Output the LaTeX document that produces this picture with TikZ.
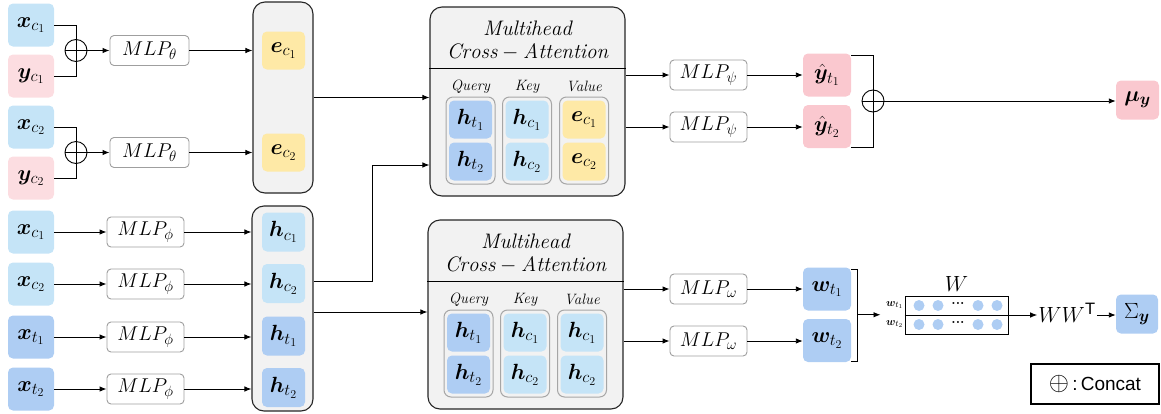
\RequirePackage{fix-cm}
\documentclass[tikz,border=0pt]{standalone}
\usepackage{fontspec}
\usepackage{amsmath,bm}
\newfontfamily\arialfont{Liberation Sans}
\usetikzlibrary{calc,arrows.meta}
\DeclareMathSizes{22}{22}{16.5}{12}
\DeclareMathSizes{20}{20}{15}{11}
\DeclareMathSizes{11}{11}{8.5}{6}
\definecolor{lblue}{HTML}{C5E4F7}
\definecolor{dblue}{HTML}{AECDF3}
\definecolor{lpink}{HTML}{FCDDE1}
\definecolor{dpink}{HTML}{FAC8CF}
\definecolor{yel}{HTML}{FEE9A6}
\definecolor{contfill}{HTML}{F2F2F2}
\tikzset{
  cell/.style={rounded corners=5pt, inner sep=0pt, minimum width=43pt, minimum height=38pt, font=\fontsize{22}{24}\selectfont},
  inbox/.style={cell, minimum width=46pt, minimum height=43pt},
  outbox/.style={cell, minimum width=48pt, minimum height=43pt},
  mlp/.style={draw=gray!75, line width=0.9pt, rounded corners=4pt, fill=white, minimum width=77pt, minimum height=30pt, inner sep=0pt, font=\fontsize{20}{22}\selectfont},
  container/.style={draw=black!85, line width=1.1pt, fill=contfill, rounded corners=12pt, inner sep=0pt},
  grp/.style={draw=gray!70, line width=1pt, fill=contfill, rounded corners=7pt, minimum width=49pt, minimum height=87pt, inner sep=0pt},
  cat/.style={circle, draw, line width=0.9pt, minimum size=22pt, inner sep=0pt},
  arr/.style={-{Latex[length=7pt,width=5.5pt]}, line width=0.9pt},
  ln/.style={line width=0.9pt},
  qlab/.style={font=\fontsize{15}{17}\selectfont\itshape},
  ttl/.style={font=\fontsize{21}{24}\selectfont},
  dot/.style={circle, fill=dblue, minimum size=11pt, inner sep=0pt},
}
\begin{document}
\begin{tikzpicture}[x=1pt,y=-1pt]
\useasboundingbox (0,0) rectangle (1161,413);

% ---------- left inputs ----------
\node[inbox, fill=lblue] (xa) at (31,25) {$\bm{x}_{c_1}$};
\node[inbox, fill=lpink] (ya) at (31,76) {$\bm{y}_{c_1}$};
\node[inbox, fill=lblue] (xb) at (31,127) {$\bm{x}_{c_2}$};
\node[inbox, fill=lpink] (yb) at (31,178) {$\bm{y}_{c_2}$};
\node[inbox, fill=lblue] (xc1) at (31,232) {$\bm{x}_{c_1}$};
\node[inbox, fill=lblue] (xc2) at (31,284) {$\bm{x}_{c_2}$};
\node[inbox, fill=dblue] (xt1) at (31,337) {$\bm{x}_{t_1}$};
\node[inbox, fill=dblue] (xt2) at (31,389) {$\bm{x}_{t_2}$};

% concat circles
\node[cat] (c1) at (76,50.5) {};
\node[cat] (c2) at (76,152.5) {};
\foreach \c in {c1,c2}{
  \draw[ln] (\c.west) -- (\c.east);
}
\draw[ln] (xa.east) -| (c1.north);
\draw[ln] (ya.east) -| (c1.south);
\draw[ln] (c1.north) -- (c1.south);
\draw[ln] (xb.east) -| (c2.north);
\draw[ln] (yb.east) -| (c2.south);
\draw[ln] (c2.north) -- (c2.south);

% MLP theta
\node[mlp, minimum width=79pt] (mt1) at (149.5,50.5) {$MLP_{\theta}$};
\node[mlp, minimum width=79pt] (mt2) at (149.5,152.5) {$MLP_{\theta}$};
\draw[arr] (c1.east) -- (mt1.west);
\draw[arr] (c2.east) -- (mt2.west);

% MLP phi
\node[mlp] (mp1) at (145.5,232) {$MLP_{\phi}$};
\node[mlp] (mp2) at (145.5,284) {$MLP_{\phi}$};
\node[mlp] (mp3) at (145.5,337) {$MLP_{\phi}$};
\node[mlp] (mp4) at (145.5,389) {$MLP_{\phi}$};
\draw[arr] (xc1.east) -- (mp1.west);
\draw[arr] (xc2.east) -- (mp2.west);
\draw[arr] (xt1.east) -- (mp3.west);
\draw[arr] (xt2.east) -- (mp4.west);

% e container
\node[container, minimum width=60pt, minimum height=191pt] (E) at (283,97.5) {};
\node[cell, fill=yel] (ec1) at (283.5,50.5) {$\bm{e}_{c_1}$};
\node[cell, fill=yel] (ec2) at (283.5,152.5) {$\bm{e}_{c_2}$};
\draw[arr] (mt1.east) -- (E.west |- mt1.east);
\draw[arr] (mt2.east) -- (E.west |- mt2.east);

% h container
\node[container, minimum width=61pt, minimum height=205pt] (H) at (282.5,308.5) {};
\node[cell, fill=lblue, minimum height=39pt] (hc1) at (283.5,232) {$\bm{h}_{c_1}$};
\node[cell, fill=lblue, minimum height=39pt] (hc2) at (283.5,283.5) {$\bm{h}_{c_2}$};
\node[cell, fill=dblue, minimum height=39pt] (ht1) at (283.5,336) {$\bm{h}_{t_1}$};
\node[cell, fill=dblue, minimum height=39pt] (ht2) at (283.5,387.5) {$\bm{h}_{t_2}$};
\draw[arr] (mp1.east) -- (H.west |- mp1.east);
\draw[arr] (mp2.east) -- (H.west |- mp2.east);
\draw[arr] (mp3.east) -- (H.west |- mp3.east);
\draw[arr] (mp4.east) -- (H.west |- mp4.east);

% ---------- MHA 1 ----------
\node[container, minimum width=195pt, minimum height=189pt] (M1) at (527.5,101.5) {};
\draw[ln] ($(M1.north west)+(0,62)$) -- ($(M1.north east)+(0,62)$);
\node[ttl] (m1t1) at ($(M1.north)+(0,22)$) {$\mathit{Multihead}$};
\node[ttl] (m1t2) at ($(M1.north)+(0,45)$) {$\mathit{Cross}-\mathit{Attention}$};
\node[grp] (g1q) at (470.5,140.5) {};
\node[grp] (g1k) at (527,140.5) {};
\node[grp] (g1v) at (584,140.5) {};
\node[qlab] (l1q) at ($(g1q.north)+(0,-10)$) {Query};
\node[qlab] (l1k) at ($(g1k.north)+(0,-10)$) {Key};
\node[qlab] (l1v) at ($(g1v.north)+(0,-10)$) {Value};
\node[cell, fill=dblue] (q1a) at ($(g1q)+(0,-21)$) {$\bm{h}_{t_1}$};
\node[cell, fill=dblue] (q1b) at ($(g1q)+(0,21)$) {$\bm{h}_{t_2}$};
\node[cell, fill=lblue] (k1a) at ($(g1k)+(0,-21)$) {$\bm{h}_{c_1}$};
\node[cell, fill=lblue] (k1b) at ($(g1k)+(0,21)$) {$\bm{h}_{c_2}$};
\node[cell, fill=yel] (v1a) at ($(g1v)+(0,-21)$) {$\bm{e}_{c_1}$};
\node[cell, fill=yel] (v1b) at ($(g1v)+(0,21)$) {$\bm{e}_{c_2}$};

% ---------- MHA 2 ----------
\node[container, minimum width=195pt, minimum height=189pt] (M2) at (525.5,314.5) {};
\draw[ln] ($(M2.north west)+(0,62)$) -- ($(M2.north east)+(0,62)$);
\node[ttl] (m2t1) at ($(M2.north)+(0,22)$) {$\mathit{Multihead}$};
\node[ttl] (m2t2) at ($(M2.north)+(0,45)$) {$\mathit{Cross}-\mathit{Attention}$};
\node[grp] (g2q) at (468.5,353.5) {};
\node[grp] (g2k) at (525,353.5) {};
\node[grp] (g2v) at (582,353.5) {};
\node[qlab] (l2q) at ($(g2q.north)+(0,-10)$) {Query};
\node[qlab] (l2k) at ($(g2k.north)+(0,-10)$) {Key};
\node[qlab] (l2v) at ($(g2v.north)+(0,-10)$) {Value};
\node[cell, fill=dblue] (q2a) at ($(g2q)+(0,-21)$) {$\bm{h}_{t_1}$};
\node[cell, fill=dblue] (q2b) at ($(g2q)+(0,21)$) {$\bm{h}_{t_2}$};
\node[cell, fill=lblue] (k2a) at ($(g2k)+(0,-21)$) {$\bm{h}_{c_1}$};
\node[cell, fill=lblue] (k2b) at ($(g2k)+(0,21)$) {$\bm{h}_{c_2}$};
\node[cell, fill=lblue] (v2a) at ($(g2v)+(0,-21)$) {$\bm{h}_{c_1}$};
\node[cell, fill=lblue] (v2b) at ($(g2v)+(0,21)$) {$\bm{h}_{c_2}$};

% connections into MHA
\draw[arr] (E.east) -- (M1.west |- E.east);
\draw[arr] ($(H.east)+(0,-27.5)$) -- ++(59,0) |- ($(M1.west)+(0,63.5)$);
\coordinate (hb) at ($(H.east)+(0,3.5)$);
\draw[arr] (hb) -- (M2.west |- hb);

% ---------- top right ----------
\node[mlp] (ps1) at (708.5,75) {$MLP_{\psi}$};
\node[mlp] (ps2) at (708.5,127) {$MLP_{\psi}$};
\node[outbox, fill=dpink] (yh1) at (827,75) {$\hat{\bm{y}}_{t_1}$};
\node[outbox, fill=dpink] (yh2) at (827,126.5) {$\hat{\bm{y}}_{t_2}$};
\draw[arr] (M1.east |- ps1.west) -- (ps1.west);
\draw[arr] (M1.east |- ps2.west) -- (ps2.west);
\draw[arr] (ps1.east) -- (yh1.west);
\draw[arr] (ps2.east) -- (yh2.west |- ps2.east);
\node[cat] (c3) at (873,101) {};
\draw[ln] (c3.west) -- (c3.east);
\draw[ln] ($(yh1.north east)+(0,2)$) -| (c3.north);
\draw[ln] ($(yh2.south east)+(0,-1)$) -| (c3.south);
\draw[ln] (c3.north) -- (c3.south);
\node[cell, fill=dpink, minimum height=39pt] (mu) at (1137.5,100) {$\bm{\mu}_{\bm{y}}$};
\draw[arr] (c3.east) -- (mu.west |- c3.east);

% ---------- bottom right ----------
\node[mlp] (om1) at (708.5,289) {$MLP_{\omega}$};
\node[mlp] (om2) at (708.5,341) {$MLP_{\omega}$};
\node[outbox, fill=dblue] (w1) at (827,289) {$\bm{w}_{t_1}$};
\node[outbox, fill=dblue] (w2) at (827,340.5) {$\bm{w}_{t_2}$};
\draw[arr] (M2.east |- om1.west) -- (om1.west);
\draw[arr] (M2.east |- om2.west) -- (om2.west);
\draw[arr] (om1.east) -- (w1.west);
\draw[arr] (om2.east) -- (w2.west |- om2.east);
\draw[ln] ($(w1.north east)+(0,2)$) -- ++(6,0) |- ($(w2.south east)+(0,-1)$);
\coordinate (wb) at ($(w1.north east)!0.5!(w2.south east)+(6,0)$);

\node[draw, line width=1pt, minimum width=103pt, minimum height=38pt, inner sep=0pt] (Wm) at (956.5,315) {};
\draw[line width=1pt] (Wm.west) -- (Wm.east);
\node[font=\fontsize{22}{24}\selectfont, anchor=south, inner sep=0pt] (Wl) at ($(Wm.north)+(0,-4)$) {$W$};
\foreach \r/\yy in {a/305.5,b/324.5}{
  \node[dot] (d1\r) at (919,\yy) {};
  \node[dot] (d2\r) at (938,\yy) {};
  \node[font=\fontsize{14}{14}\selectfont\bfseries, inner sep=0pt] (dd\r) at (958,\yy-2) {...};
  \node[dot] (d3\r) at (978,\yy) {};
  \node[dot] (d4\r) at (997,\yy) {};
}
\node[font=\fontsize{11}{12}\selectfont, anchor=east, inner sep=1pt] (wl1) at ($(Wm.west)+(0,-10)$) {$\bm{w}_{t_1}$};
\node[font=\fontsize{11}{12}\selectfont, anchor=east, inner sep=1pt] (wl2) at ($(Wm.west)+(0,9)$) {$\bm{w}_{t_2}$};
\draw[arr] (wb) -- ($(Wm.west |- wb)+(-24,0)$);

\node[font=\fontsize{22}{24}\selectfont, inner sep=1pt] (wwt) at (1067,313) {$WW^{\text{\arialfont T}}$};
\node[cell, fill=dblue, minimum width=42pt, minimum height=39pt] (sig) at (1137,314) {$\Sigma_{\bm{y}}$};
\draw[arr] (Wm.east) -- (wwt.west |- Wm.east);
\draw[arr] (wwt.east |- Wm.east) -- (sig.west |- Wm.east);

% legend
\node[draw, line width=1.1pt, minimum width=128pt, minimum height=40pt, inner sep=0pt, font=\fontsize{19}{20}\selectfont\arialfont] (leg) at (1095,384) {{\fontsize{26}{26}\selectfont$\oplus$}\,:\,Concat};
\end{tikzpicture}
\end{document}
